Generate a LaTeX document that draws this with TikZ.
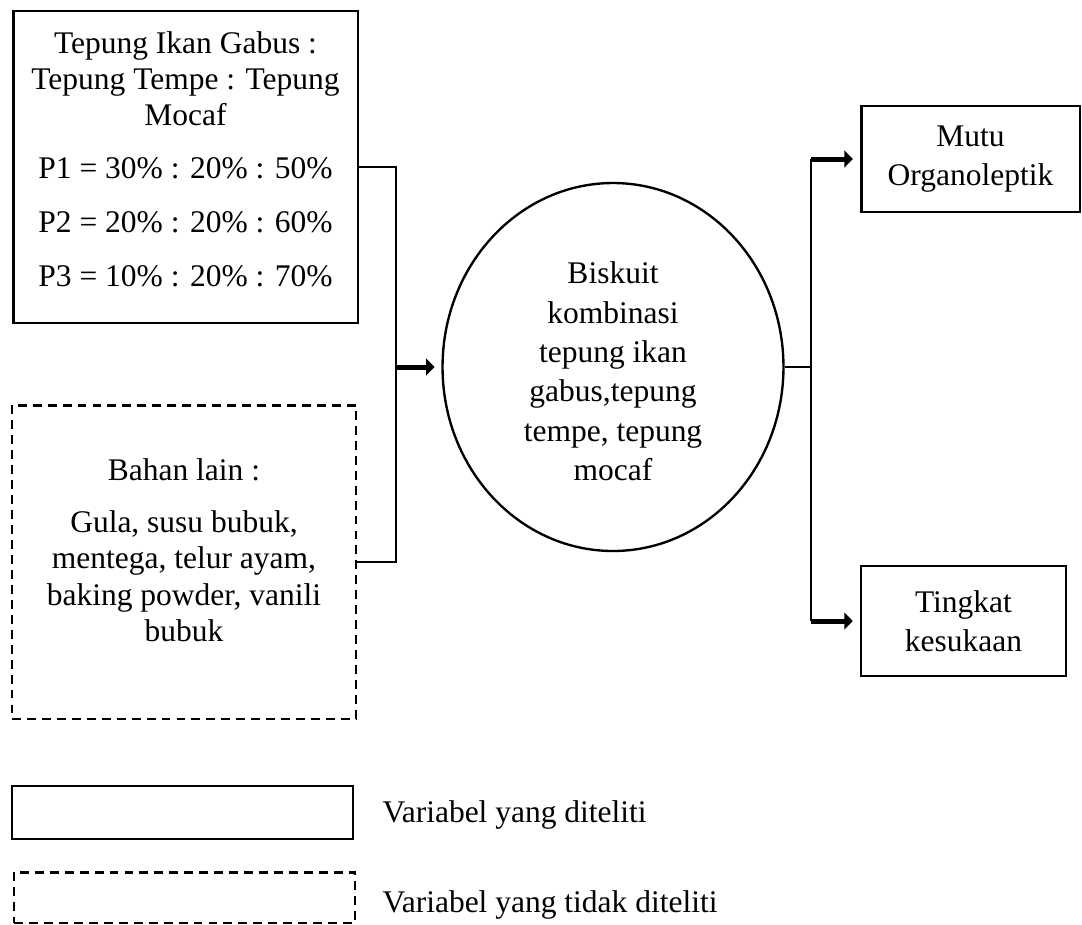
\documentclass[tikz,border=0pt]{standalone}
\usepackage{fontspec}
\setmainfont{Liberation Serif}
\usetikzlibrary{shapes.geometric}
\usetikzlibrary{arrows.meta}
\tikzstyle{kotak}=[draw, line width=1.1pt, align=flush center, inner sep=0pt]
\tikzstyle{kotakputus}=[kotak, dash pattern=on 3.4pt off 2.3pt]
\tikzstyle{garis}=[line width=0.8pt]
\tikzstyle{panah}=[line width=1.9pt, -{Triangle[length=3.2pt,width=6.4pt]}, shorten >=2.6pt]

\begin{document}
\begin{tikzpicture}[x=0.381pt, y=-0.381pt, font=\fontsize{12}{13.8}\selectfont]
	\useasboundingbox (0,0) rectangle (1082,924);
	\node(komposisi)[kotak, text width=125pt, minimum width=131.4pt, minimum height=118.9pt] at (185.5,167) {Tepung Ikan Gabus :\\ Tepung Tempe : Tepung\\ Mocaf\\[6.4pt] P1 = 30\% : 20\% : 50\%\\[6.8pt] P2 = 20\% : 20\% : 60\%\\[6.8pt] P3 = 10\% : 20\% : 70\%\par\vspace{6pt}\hrule height 0pt};
	\node(bahanlain)[kotakputus, text width=125pt, minimum width=131.1pt, minimum height=119.6pt] at (184,562) {Bahan lain :\\[6pt] Gula, susu bubuk,\\ mentega, telur ayam,\\ baking powder, vanili\\ bubuk\par\vspace{9pt}\hrule height 0pt};
	\node(biskuit)[kotak, line width=0.9pt, ellipse, text width=80pt, minimum width=129.9pt, minimum height=140.2pt] at (613,367) {\hrule height 0pt\vspace{3.4pt}Biskuit\\[1.2pt] kombinasi\\[1.2pt] tepung ikan\\[1.2pt] gabus,tepung\\[1.2pt] tempe, tepung\\[1.2pt] mocaf};
	\node(mutu)[kotak, text width=80pt, minimum width=83.4pt, minimum height=40.4pt] at (970.5,159) {Mutu\\[1pt] Organoleptik};
	\node(tingkat)[kotak, text width=75pt, minimum width=78.1pt, minimum height=41.9pt] at (963.5,621) {Tingkat\\[1pt] kesukaan};
	% keterangan
	\node(legenda1)[kotak, minimum width=129.9pt, minimum height=20.2pt] at (182.5,812.5) {};
	\node(legenda2)[kotakputus, minimum width=129.9pt, minimum height=19.4pt] at (184.5,897.5) {};
	\node(ket1)[anchor=west, inner sep=0pt] at (382,815) {Variabel yang diteliti};
	\node(ket2)[anchor=west, inner sep=0pt] at (382,905) {Variabel yang tidak diteliti};
	% garis penghubung
	\coordinate(gabung) at (396,367);
	\coordinate(cabang) at (811,367);
	\draw[garis] (komposisi.east) -| (gabung);
	\draw[garis] (bahanlain.east) -| (gabung);
	\draw[panah] (gabung) -- (biskuit.west);
	\draw[garis] (biskuit.east) -- (cabang);
	\draw[garis] (cabang |- mutu.west) -- (cabang |- tingkat.west);
	\draw[panah] (cabang |- mutu.west) -- (mutu.west);
	\draw[panah] (cabang |- tingkat.west) -- (tingkat.west);
\end{tikzpicture}
\end{document}
